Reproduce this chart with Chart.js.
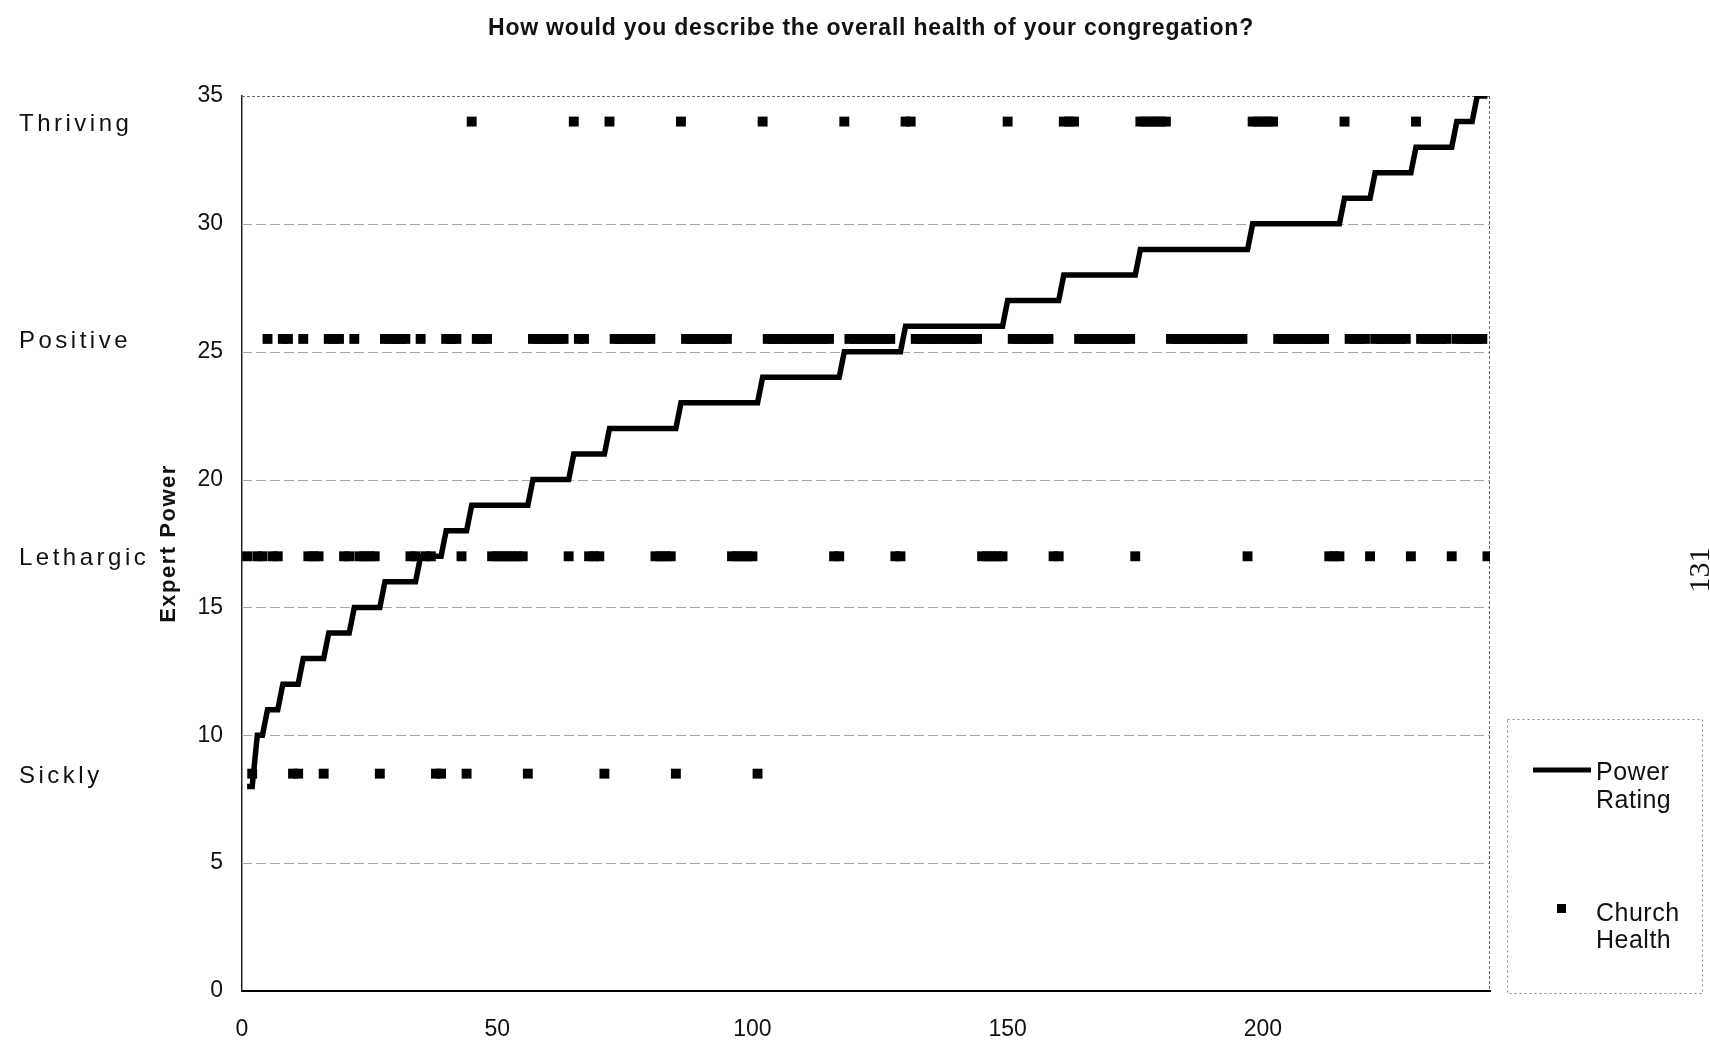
<!DOCTYPE html>
<html>
<head>
<meta charset="utf-8">
<script src="https://cdn.jsdelivr.net/npm/chart.js@4.4.1/dist/chart.umd.min.js"></script>
<style>
  html, body { margin: 0; padding: 0; background: #ffffff; }
  #wrap { width: 1710px; height: 1050px; position: relative; }
</style>
</head>
<body>
<div id="wrap"><canvas id="c" width="1710" height="1050"></canvas></div>
<script>
// ---------------- DATA ----------------
const chartTitle = 'How would you describe the overall health of your congregation?';
const yAxisTitle = 'Expert Power';
const seriesLabels = ['Power Rating', 'Church Health'];
const xTickValues = [0, 50, 100, 150, 200];
const healthCategories = ['Thriving', 'Positive', 'Lethargic', 'Sickly'];
const healthCategoryValues = [34, 25.5, 17, 8.5];
const pageNumber = '131';
const [T, P, L, S] = healthCategoryValues;

// Expert power of each respondent (respondents 1..244, sorted)
const powerRating = [
  8, 8,
  10, 10,
  11, 11, 11,
  12, 12, 12, 12,
  13, 13, 13, 13, 13,
  14, 14, 14, 14, 14,
  15, 15, 15, 15, 15, 15,
  16, 16, 16, 16, 16, 16, 16,
  17, 17, 17, 17, 17,
  18, 18, 18, 18, 18,
  19, 19, 19, 19, 19, 19, 19, 19, 19, 19, 19, 19,
  20, 20, 20, 20, 20, 20, 20, 20,
  21, 21, 21, 21, 21, 21, 21,
  22, 22, 22, 22, 22, 22, 22, 22, 22, 22, 22, 22, 22, 22,
  23, 23, 23, 23, 23, 23, 23, 23, 23, 23, 23, 23, 23, 23, 23, 23,
  24, 24, 24, 24, 24, 24, 24, 24, 24, 24, 24, 24, 24, 24, 24, 24,
  25, 25, 25, 25, 25, 25, 25, 25, 25, 25, 25, 25,
  26, 26, 26, 26, 26, 26, 26, 26, 26, 26, 26, 26, 26, 26, 26, 26, 26, 26, 26, 26,
  27, 27, 27, 27, 27, 27, 27, 27, 27, 27, 27,
  28, 28, 28, 28, 28, 28, 28, 28, 28, 28, 28, 28, 28, 28, 28,
  29, 29, 29, 29, 29, 29, 29, 29, 29, 29, 29, 29, 29, 29, 29, 29, 29, 29, 29, 29, 29, 29,
  30, 30, 30, 30, 30, 30, 30, 30, 30, 30, 30, 30, 30, 30, 30, 30, 30, 30,
  31, 31, 31, 31, 31, 31,
  32, 32, 32, 32, 32, 32, 32, 32,
  33, 33, 33, 33, 33, 33, 33, 33,
  34, 34, 34, 34,
  35, 35, 35
];

// Church health rating of the same respondents (plotted at the category row value)
const churchHealth = [
  L, S,
  L, L,
  P, L, L,
  P, P, S, S,
  P, L, L, L, S,
  P, P, P, L, L,
  P, L, L, L, L, S,
  P, P, P, P, P, L, L,
  P, L, L, S, S,
  P, P, P, L, S,
  T, P, P, P, L, L, L, L, L, L, L, S,
  P, P, P, P, P, P, P, L,
  T, P, P, L, L, L, S,
  T, P, P, P, P, P, P, P, P, L, L, L, L, S,
  T, P, P, P, P, P, P, P, P, P, L, L, L, L, L, S,
  T, P, P, P, P, P, P, P, P, P, P, P, P, P, L, L,
  T, P, P, P, P, P, P, P, P, P, L, L,
  T, T, P, P, P, P, P, P, P, P, P, P, P, P, P, L, L, L, L, L,
  T, P, P, P, P, P, P, P, P, L, L,
  T, T, T, P, P, P, P, P, P, P, P, P, P, P, L,
  T, T, T, T, T, T, P, P, P, P, P, P, P, P, P, P, P, P, P, P, P, L,
  T, T, T, T, T, P, P, P, P, P, P, P, P, P, P, L, L, L,
  T, P, P, P, P, L,
  P, P, P, P, P, P, P, L,
  T, P, P, P, P, P, P, L,
  P, P, P, P,
  P, P, L
];

// ---------------- CHART ----------------
const FONT = '"Liberation Sans", Arial, Helvetica, sans-serif';
const INK = '#111111';

const powerPoints = powerRating.map((v, i) => ({ x: i + 1, y: v }));
const healthPoints = churchHealth.map((v, i) => ({ x: i + 1, y: v }));

const decor = {
  id: 'decor',
  beforeDraw(chart) {
    const c = chart.ctx;
    c.save();
    c.fillStyle = '#ffffff';
    c.fillRect(0, 0, chart.width, chart.height);
    c.restore();
  },
  beforeDatasetsDraw(chart) {
    const { ctx, chartArea: a, scales: { y } } = chart;
    ctx.save();
    // horizontal gridlines
    ctx.strokeStyle = '#a8a8a8';
    ctx.lineWidth = 1;
    ctx.setLineDash([10, 4]);
    y.ticks.forEach(t => {
      if (t.value > y.min && t.value < y.max) {
        const py = Math.round(y.getPixelForValue(t.value)) + 0.5;
        ctx.beginPath();
        ctx.moveTo(a.left, py);
        ctx.lineTo(a.right, py);
        ctx.stroke();
      }
    });
    // dotted top and right frame
    ctx.strokeStyle = '#666666';
    ctx.setLineDash([3, 2]);
    ctx.beginPath();
    ctx.moveTo(a.left, a.top + 0.5);
    ctx.lineTo(a.right, a.top + 0.5);
    ctx.moveTo(a.right - 0.5, a.top);
    ctx.lineTo(a.right - 0.5, a.bottom);
    ctx.stroke();
    ctx.restore();
  },
  afterDraw(chart) {
    const { ctx, chartArea: a, scales: { y } } = chart;
    ctx.save();
    ctx.fillStyle = INK;
    ctx.textAlign = 'left';
    ctx.textBaseline = 'alphabetic';

    // title
    ctx.font = 'bold 23px ' + FONT;
    ctx.letterSpacing = '0.8px';
    ctx.textAlign = 'center';
    ctx.fillText(chartTitle, 871, 35);

    // y axis title
    ctx.save();
    ctx.translate(169, (a.top + a.bottom) / 2);
    ctx.rotate(-Math.PI / 2);
    ctx.font = 'bold 22px ' + FONT;
    ctx.letterSpacing = '1.5px';
    ctx.textAlign = 'center';
    ctx.textBaseline = 'middle';
    ctx.fillText(yAxisTitle, 0, 0);
    ctx.restore();

    // category labels on the left
    ctx.font = '24px ' + FONT;
    ctx.letterSpacing = '3.5px';
    ctx.textAlign = 'left';
    healthCategories.forEach((name, i) => {
      const py = y.getPixelForValue(healthCategoryValues[i]);
      ctx.fillText(name, 19, py + 9);
    });

    // legend
    ctx.letterSpacing = '0px';
    ctx.strokeStyle = '#8a8a8a';
    ctx.lineWidth = 1;
    ctx.setLineDash([2, 3]);
    ctx.strokeRect(1507.5, 719.5, 195, 274);
    ctx.setLineDash([]);
    ctx.strokeStyle = '#000000';
    ctx.lineWidth = 5;
    ctx.beginPath();
    ctx.moveTo(1533, 770);
    ctx.lineTo(1591, 770);
    ctx.stroke();
    ctx.fillStyle = '#000000';
    ctx.fillRect(1557, 904, 9, 9);
    ctx.fillStyle = INK;
    ctx.font = '25px ' + FONT;
    ctx.letterSpacing = '0.5px';
    const w0 = seriesLabels[0].split(' ');
    const w1 = seriesLabels[1].split(' ');
    ctx.fillText(w0[0], 1596, 780);
    ctx.fillText(w0[1], 1596, 808);
    ctx.fillText(w1[0], 1596, 921);
    ctx.fillText(w1[1], 1596, 948);

    // page number (scanned page)
    ctx.save();
    ctx.translate(1701, 570);
    ctx.rotate(-Math.PI / 2);
    ctx.font = '30px "Liberation Serif", "Times New Roman", serif';
    ctx.letterSpacing = '0px';
    ctx.textAlign = 'center';
    ctx.textBaseline = 'middle';
    ctx.fillText(pageNumber, 0, 0);
    ctx.restore();

    ctx.restore();
  }
};

new Chart(document.getElementById('c'), {
  data: {
    datasets: [
      {
        type: 'line',
        label: seriesLabels[0],
        data: powerPoints,
        borderColor: '#000000',
        backgroundColor: '#000000',
        borderWidth: 5.5,
        pointRadius: 0,
        pointHoverRadius: 0,
        tension: 0,
        fill: false,
        order: 1
      },
      {
        type: 'scatter',
        label: seriesLabels[1],
        data: healthPoints,
        pointStyle: 'rect',
        pointRadius: 7,
        pointBorderWidth: 0,
        borderWidth: 0,
        backgroundColor: '#000000',
        borderColor: '#000000',
        order: 2
      }
    ]
  },
  options: {
    responsive: false,
    devicePixelRatio: 1,
    animation: false,
    events: [],
    layout: { padding: { left: 150, right: 220, top: 96, bottom: 0 } },
    plugins: {
      legend: { display: false },
      title: { display: false },
      tooltip: { enabled: false }
    },
    scales: {
      x: {
        type: 'linear',
        position: 'bottom',
        min: 0,
        max: 244.5,
        afterBuildTicks: (scale) => { scale.ticks = xTickValues.map(v => ({ value: v })); },
        afterFit: (scale) => { scale.height = 59; },
        grid: { display: false, drawTicks: false },
        border: { display: true, color: '#000000', width: 2 },
        ticks: {
          autoSkip: false,
          maxRotation: 0,
          padding: 25,
          color: INK,
          font: { family: FONT, size: 23 }
        }
      },
      y: {
        type: 'linear',
        position: 'left',
        min: 0,
        max: 35,
        afterFit: (scale) => { scale.width = 92; },
        grid: { display: false, drawTicks: false },
        border: { display: true, color: '#222222', width: 1.5 },
        ticks: {
          stepSize: 5,
          padding: 19,
          color: INK,
          font: { family: FONT, size: 23 }
        }
      }
    }
  },
  plugins: [decor]
});
</script>
</body>
</html>
